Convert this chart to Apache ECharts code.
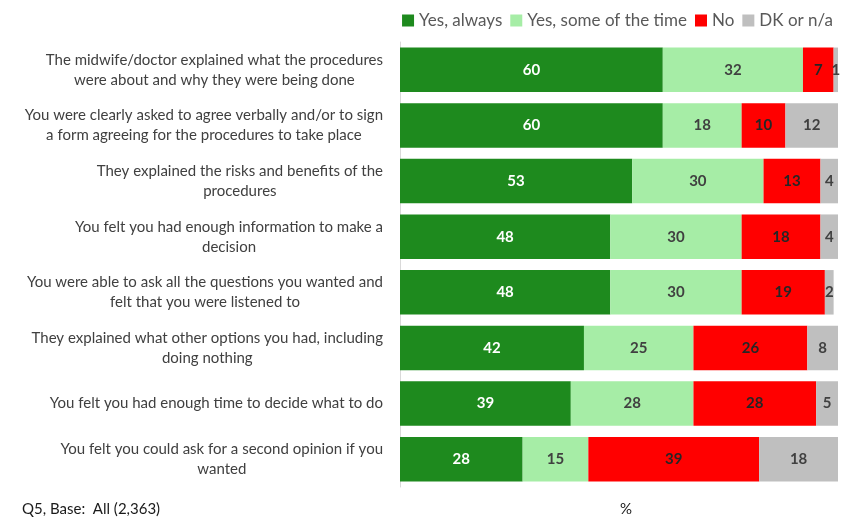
<!DOCTYPE html>
<html>
<head>
<meta charset="utf-8">
<script src="https://cdn.jsdelivr.net/npm/echarts@6/dist/echarts.min.js"></script>
<style>
  html, body { margin: 0; padding: 0; background: #fff; }
  #chart { width: 850px; height: 520px; }
</style>
</head>
<body>
<div id="chart"></div>
<script>
// statements, top to bottom
const categories = [
  "The midwife/doctor explained what the procedures\nwere about and why they were being done",
  "You were clearly asked to agree verbally and/or to sign\na form agreeing for the procedures to take place",
  "They explained the risks and benefits of the\nprocedures",
  "You felt you had enough information to make a\ndecision",
  "You were able to ask all the questions you wanted and\nfelt that you were listened to",
  "They explained what other options you had, including\ndoing nothing",
  "You felt you had enough time to decide what to do",
  "You felt you could ask for a second opinion if you\nwanted"
];
const yesAlways = [60, 60, 53, 48, 48, 42, 39, 28];
const yesSome = [32, 18, 30, 30, 30, 25, 28, 15];
const no = [7, 10, 13, 18, 19, 26, 28, 39];
const dk = [1, 12, 4, 4, 2, 8, 5, 18];

const font = "Lato, 'Open Sans', sans-serif";

function makeSeries(name, data, color, labelColor) {
  return {
    name: name,
    type: "bar",
    stack: "total",
    data: data,
    barCategoryGap: "20%",
    itemStyle: { color: color },
    label: {
      show: true,
      position: "inside",
      color: labelColor,
      fontWeight: "bold",
      fontSize: 15,
      fontFamily: font
    }
  };
}

const chart = echarts.init(document.getElementById("chart"));
chart.setOption({
  animation: false,
  legend: {
    right: 12,
    top: 7,
    itemWidth: 12,
    itemHeight: 12,
    itemGap: 8,
    icon: "rect",
    textStyle: { color: "#595959", fontSize: 17, fontFamily: font },
    data: ["Yes, always", "Yes, some of the time", "No", "DK or n/a"]
  },
  grid: { left: 400, right: 12, top: 42, bottom: 33 },
  xAxis: {
    type: "value",
    min: 0,
    max: 100,
    show: false
  },
  yAxis: {
    type: "category",
    inverse: true,
    data: categories,
    axisLine: { lineStyle: { color: "#D9D9D9" } },
    axisTick: { length: 4, lineStyle: { color: "#D9D9D9" } },
    axisLabel: {
      margin: 17,
      align: "right",
      formatter: function (v) {
        return v.split("\n").map(function (l) { return "{c|" + l + "}"; }).join("\n");
      },
      rich: {
        c: { align: "center", color: "#404040", fontSize: 15, lineHeight: 20, fontFamily: font }
      }
    }
  },
  series: [
    makeSeries("Yes, always", yesAlways, "#1E8A1E", "#FFFFFF"),
    makeSeries("Yes, some of the time", yesSome, "#A6EDA6", "#404040"),
    makeSeries("No", no, "#FF0000", "#262626"),
    makeSeries("DK or n/a", dk, "#BFBFBF", "#404040")
  ],
  graphic: [
    {
      type: "text",
      left: 22,
      top: 502,
      style: { text: "Q5, Base:  All (2,363)", fill: "#1a1a1a", fontSize: 15, fontFamily: font }
    },
    {
      type: "text",
      left: 620,
      top: 502,
      style: { text: "%", fill: "#1a1a1a", fontSize: 15, fontFamily: font }
    }
  ]
});
</script>
</body>
</html>
